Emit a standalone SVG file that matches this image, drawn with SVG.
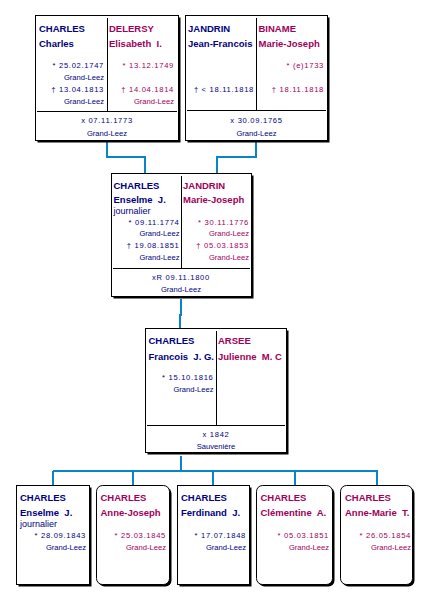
<svg xmlns="http://www.w3.org/2000/svg" width="431" height="600" viewBox="0 0 431 600" xml:space="preserve">
<style>
text{font-family:"Liberation Sans",Arial,sans-serif;white-space:pre}
.n{font-size:9.5px;font-weight:bold}
.s{font-size:7.6px}
.d{font-size:7.6px;letter-spacing:0.7px}
.j{font-size:9px}
.m{fill:#000080}
.f{fill:#a0005a}
.e{text-anchor:end}
.c{text-anchor:middle}
.box{fill:#fff;stroke:#000;stroke-width:1}
.sh{fill:#000}
.div{stroke:#000;stroke-width:1;fill:none}
.con{stroke:#0a84c8;stroke-width:2;fill:none}
</style>
<rect width="431" height="600" fill="#fff"/>
<g id="connectors">
<path class="con" d="M107,142V157H145V173"/>
<path class="con" d="M256,142V157H217V173"/>
<path class="con" d="M181,299V315H180V328"/>
<path class="con" d="M181,456V471"/>
<path class="con" d="M53,471H378"/>
<path class="con" d="M53,471V485M133,471V485M213,471V485M295,471V485M377,471V485"/>
</g>
<g id="couple1">
<rect class="sh" x="37.5" y="17.5" width="143" height="125"/>
<rect class="box" x="35.5" y="15.5" width="143" height="125"/>
<path class="div" d="M107.5,18V111.5M37,111.5H177"/>
<text class="n m" x="39" y="32">CHARLES</text>
<text class="n m" x="39" y="47">Charles</text>
<text class="d m e" x="104" y="67.5">* 25.02.1747</text>
<text class="s m e" x="104" y="79.5">Grand-Leez</text>
<text class="d m e" x="104" y="92">† 13.04.1813</text>
<text class="s m e" x="104" y="103.5">Grand-Leez</text>
<text class="n f" x="109" y="32">DELERSY</text>
<text class="n f" x="109" y="47">Elisabeth  I.</text>
<text class="d f e" x="174" y="67.5">* 13.12.1749</text>
<text class="d f e" x="174" y="92">† 14.04.1814</text>
<text class="s f e" x="174" y="103.5">Grand-Leez</text>
<text class="d m c" x="107" y="123">x 07.11.1773</text>
<text class="s m c" x="107" y="136">Grand-Leez</text>
</g>
<g id="couple2">
<rect class="sh" x="187.5" y="17.5" width="142" height="125"/>
<rect class="box" x="185.5" y="15.5" width="142" height="125"/>
<path class="div" d="M256.5,18V110.5M187,110.5H326"/>
<text class="n m" x="188" y="32">JANDRIN</text>
<text class="n m" x="188" y="47">Jean-Francois</text>
<text class="d m e" x="254" y="92">† &lt; 18.11.1818</text>
<text class="n f" x="258.5" y="32">BINAME</text>
<text class="n f" x="258.5" y="47">Marie-Joseph</text>
<text class="d f e" x="324" y="67.5">* (e)1733</text>
<text class="d f e" x="324" y="92">† 18.11.1818</text>
<text class="d m c" x="256.5" y="123">x 30.09.1765</text>
<text class="s m c" x="256.5" y="136">Grand-Leez</text>
</g>
<g id="couple3">
<rect class="sh" x="113.5" y="175.5" width="140" height="123"/>
<rect class="box" x="111.5" y="173.5" width="140" height="123"/>
<path class="div" d="M181.5,176V268.5M113,268.5H250"/>
<text class="n m" x="113.5" y="188.5">CHARLES</text>
<text class="n m" x="113.5" y="203">Enselme  J.</text>
<text class="j m" x="113.5" y="214">journalier</text>
<text class="d m e" x="179.5" y="224.5">* 09.11.1774</text>
<text class="s m e" x="179.5" y="236">Grand-Leez</text>
<text class="d m e" x="179.5" y="248">† 19.08.1851</text>
<text class="s m e" x="179.5" y="260">Grand-Leez</text>
<text class="n f" x="183" y="188.5">JANDRIN</text>
<text class="n f" x="183" y="203">Marie-Joseph</text>
<text class="d f e" x="249" y="224.5">* 30.11.1776</text>
<text class="s f e" x="249" y="236">Grand-Leez</text>
<text class="d f e" x="249" y="248">† 05.03.1853</text>
<text class="s f e" x="249" y="260">Grand-Leez</text>
<text class="d m c" x="181" y="280">xR 09.11.1800</text>
<text class="s m c" x="181" y="291.5">Grand-Leez</text>
</g>
<g id="couple4">
<rect class="sh" x="147.5" y="330.5" width="141" height="124"/>
<rect class="box" x="145.5" y="328.5" width="141" height="124"/>
<path class="div" d="M216.5,331V425.5M147,425.5H285"/>
<text class="n m" x="148.5" y="344">CHARLES</text>
<text class="n m" x="148.5" y="359.5">Francois  J. G.</text>
<text class="d m e" x="213.5" y="380">* 15.10.1816</text>
<text class="s m e" x="213.5" y="392">Grand-Leez</text>
<text class="n f" x="218" y="344">ARSEE</text>
<text class="n f" x="218" y="359.5">Julienne  M. C</text>
<text class="d m c" x="216" y="437">x 1842</text>
<text class="s m c" x="216" y="448.5">Sauvenière</text>
</g>
<g id="child1">
<rect class="sh" x="18.5" y="487.5" width="73" height="99"/>
<rect class="box" x="16.5" y="485.5" width="73" height="99"/>
<text class="n m" x="20" y="501">CHARLES</text>
<text class="n m" x="20" y="516">Enselme  J.</text>
<text class="j m" x="20" y="527">journalier</text>
<text class="d m e" x="86" y="538">* 28.09.1843</text>
<text class="s m e" x="86" y="550">Grand-Leez</text>
</g>
<g id="child2">
<rect class="sh" x="98.5" y="487.5" width="73" height="99" rx="6"/>
<rect class="box" x="96.5" y="485.5" width="73" height="99" rx="6"/>
<text class="n f" x="100.5" y="501">CHARLES</text>
<text class="n f" x="100.5" y="516">Anne-Joseph</text>
<text class="d f e" x="166" y="538">* 25.03.1845</text>
<text class="s f e" x="166" y="550">Grand-Leez</text>
</g>
<g id="child3">
<rect class="sh" x="179.5" y="487.5" width="72" height="99"/>
<rect class="box" x="177.5" y="485.5" width="72" height="99"/>
<text class="n m" x="181" y="501">CHARLES</text>
<text class="n m" x="181" y="516">Ferdinand  J.</text>
<text class="d m e" x="246" y="538">* 17.07.1848</text>
<text class="s m e" x="246" y="550">Grand-Leez</text>
</g>
<g id="child4">
<rect class="sh" x="258.5" y="487.5" width="76" height="99" rx="6"/>
<rect class="box" x="256.5" y="485.5" width="76" height="99" rx="6"/>
<text class="n f" x="260.5" y="501">CHARLES</text>
<text class="n f" x="260.5" y="516">Clémentine  A.</text>
<text class="d f e" x="329" y="538">* 05.03.1851</text>
<text class="s f e" x="329" y="550">Grand-Leez</text>
</g>
<g id="child5">
<rect class="sh" x="342.5" y="487.5" width="72" height="99" rx="6"/>
<rect class="box" x="340.5" y="485.5" width="72" height="99" rx="6"/>
<text class="n f" x="345" y="501">CHARLES</text>
<text class="n f" x="345" y="516">Anne-Marie  T.</text>
<text class="d f e" x="411" y="538">* 26.05.1854</text>
<text class="s f e" x="411" y="550">Grand-Leez</text>
</g>
</svg>
